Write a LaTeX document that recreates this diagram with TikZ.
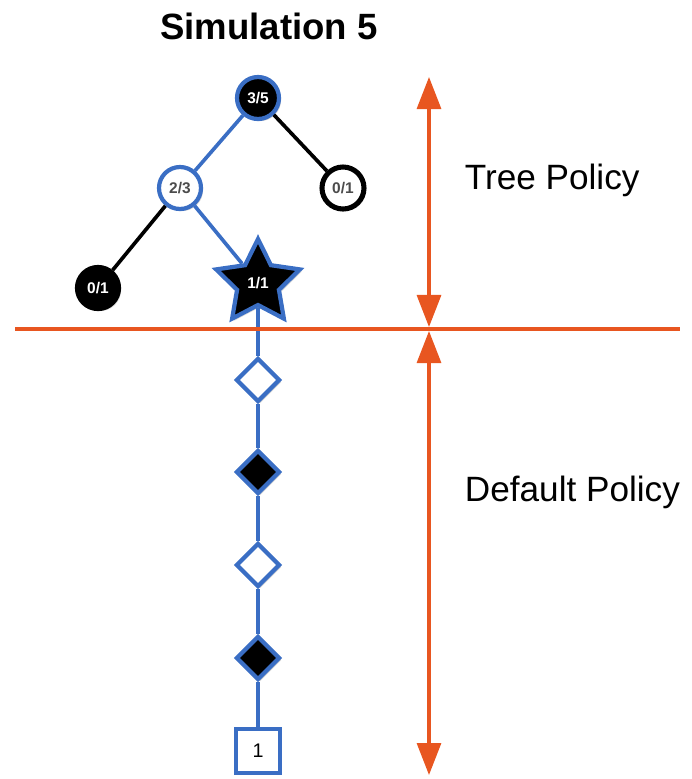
\documentclass[tikz,border=0pt]{standalone}
\usepackage{fontspec}
\setmainfont{Liberation Sans}
\usetikzlibrary{shapes.geometric,arrows.meta,shadows}
\definecolor{path blue}{RGB}{58,110,196}
\definecolor{policy}{RGB}{232,86,32}
\colorlet{win}{black}
\colorlet{loss}{white}
\tikzset{shade/.style={drop shadow={opacity=0.3,shadow xshift=1.5pt,shadow yshift=-1.5pt}},
    state/.style={circle, minimum size=1.05cm, inner sep=0pt, line width=3pt, shade,
        font=\bfseries\fontsize{11}{11}\selectfont},
    onpath/.style={draw=path blue},
    offpath/.style={draw=black},
    move/.style={diamond, minimum size=1.1cm, inner sep=0pt, line width=3pt,
        draw=path blue, shade},
    edge/.style={line width=2.6pt},
    split/.style={policy, line width=2.2pt},
    span/.style={policy, line width=2.2pt, {Triangle[length=0.8cm,width=0.6cm]}-{Triangle[length=0.8cm,width=0.6cm]}},
    label/.style={anchor=west, font=\fontsize{25}{25}\selectfont}}

\begin{document}
\begin{tikzpicture}[x=0.025cm, y=-0.025cm]
    \useasboundingbox (0,0) rectangle (692,779);
    \node[font=\bfseries\fontsize{26}{26}\selectfont] (title) at (269,26) {Simulation 5};
    % tree part
    \node[state, onpath, fill=win, text=white]   (root)  at (258,98)  {3/5};
    \node[state, onpath, fill=loss, text=black!70] (left) at (180,188) {2/3};
    \node[state, offpath, fill=loss, text=black!70, line width=3.6pt] (right) at (343,188) {0/1};
    \node[state, offpath, fill=win, text=white]  (leaf)  at (98,288)  {0/1};
    \node[star, star points=5, star point ratio=2.0, minimum size=2.2cm, inner sep=0pt,
        line width=3pt, draw=path blue, fill=win, text=white, shade,
        font=\bfseries\fontsize{11}{11}\selectfont] (new) at (258,283) {1/1};
    % rollout
    \node[move, fill=loss] (m1) at (258,380) {};
    \node[move, fill=win]  (m2) at (258,472) {};
    \node[move, fill=loss] (m3) at (258,565) {};
    \node[move, fill=win]  (m4) at (258,658) {};
    \node[rectangle, minimum size=1.1cm, inner sep=0pt, line width=3pt, draw=path blue,
        fill=white, shade, font=\fontsize{14}{14}\selectfont] (result) at (258,751) {1};

    \draw[edge, path blue] (root) -- (left);
    \draw[edge, black] (root) -- (right);
    \draw[edge, black] (left) -- (leaf);
    \draw[edge, path blue] (left) -- (new);
    \draw[edge, path blue] (new) -- (m1) -- (m2) -- (m3) -- (m4) -- (result);

    % policy markers
    \coordinate (west) at (15,329);
    \coordinate (east) at (680,329);
    \draw[split] (west) -- (east);
    \coordinate (tree top) at (429,77);
    \coordinate (tree bottom) at (429,327);
    \coordinate (rollout top) at (429,331);
    \coordinate (rollout bottom) at (429,775);
    \draw[span] (tree top) -- (tree bottom);
    \draw[span] (rollout top) -- (rollout bottom);
    \node[label] (tree) at (460,180) {Tree Policy};
    \node[label] (default) at (460,492) {Default Policy};
\end{tikzpicture}
\end{document}
